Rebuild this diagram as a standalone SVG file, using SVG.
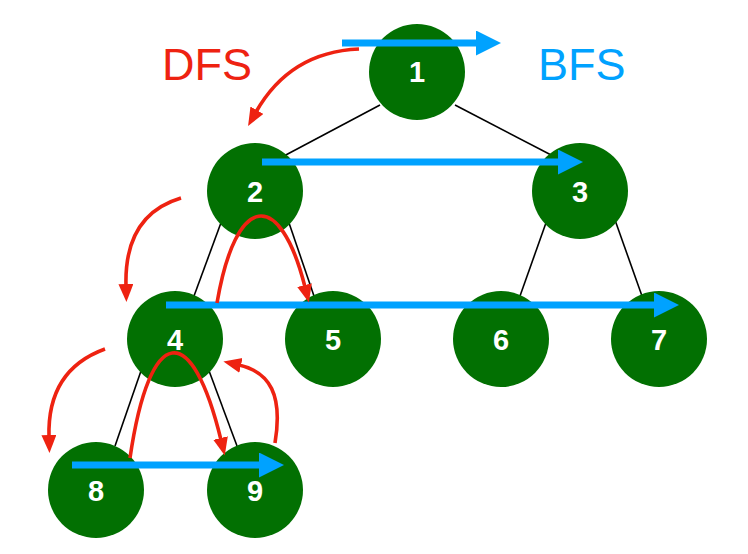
<svg xmlns="http://www.w3.org/2000/svg" width="748" height="554" viewBox="0 0 748 554">
<style>
.edge{stroke:#000;stroke-width:1.6;fill:none}
.node circle{fill:#027002}
.node text{fill:#fff;font-family:"Liberation Sans",Arial,Helvetica,sans-serif;font-weight:bold;font-size:29px;text-anchor:middle}
.bfs{stroke:#00A2FF;stroke-width:7;fill:none;marker-end:url(#bh)}
.dfs{stroke:#EE2211;stroke-width:3.6;fill:none;marker-end:url(#rh)}
.title{font-family:"Liberation Sans",Arial,Helvetica,sans-serif;font-size:45px}
</style>
<defs>
<marker id="bh" markerUnits="userSpaceOnUse" markerWidth="28" markerHeight="28" refX="2" refY="12.5" orient="auto" viewBox="0 0 28 28">
<path d="M0,0 L25,12.5 L0,25 z" fill="#00A2FF"/>
</marker>
<marker id="rh" markerUnits="userSpaceOnUse" markerWidth="20" markerHeight="16" refX="2" refY="7.5" orient="auto" viewBox="0 0 20 16">
<path d="M0,0 L18,7.5 L0,15 z" fill="#EE2211"/>
</marker>
</defs>
<rect width="748" height="554" fill="#fff"/>
<g id="edges">
<line class="edge" x1="380" y1="105" x2="282" y2="157"/>
<line class="edge" x1="455" y1="105" x2="555" y2="157"/>
<line class="edge" x1="222" y1="220" x2="194" y2="296"/>
<line class="edge" x1="288" y1="220" x2="314" y2="296"/>
<line class="edge" x1="547" y1="220" x2="520" y2="296"/>
<line class="edge" x1="615" y1="220" x2="642" y2="296"/>
<line class="edge" x1="142" y1="368" x2="115" y2="446"/>
<line class="edge" x1="208" y1="368" x2="237" y2="446"/>
</g>
<g id="n1" class="node"><circle cx="417" cy="72" r="48"/><text x="417" y="82">1</text></g>
<g id="n2" class="node"><circle cx="255" cy="191" r="48"/><text x="255" y="202">2</text></g>
<g id="n3" class="node"><circle cx="580" cy="191" r="48"/><text x="580" y="202">3</text></g>
<g id="n4" class="node"><circle cx="175" cy="339" r="48"/><text x="175" y="350">4</text></g>
<g id="n5" class="node"><circle cx="333" cy="339" r="48"/><text x="333" y="350">5</text></g>
<g id="n6" class="node"><circle cx="501" cy="339" r="48"/><text x="501" y="350">6</text></g>
<g id="n7" class="node"><circle cx="659" cy="339" r="48"/><text x="659" y="350">7</text></g>
<g id="n8" class="node"><circle cx="96" cy="490" r="48"/><text x="96" y="501">8</text></g>
<g id="n9" class="node"><circle cx="255" cy="490" r="48"/><text x="255" y="501">9</text></g>
<g id="connectors">
<line class="bfs" x1="342" y1="43" x2="478" y2="43"/>
<line class="bfs" x1="262" y1="162" x2="560" y2="162"/>
<line class="bfs" x1="166" y1="305" x2="656" y2="305"/>
<line class="bfs" x1="72" y1="465" x2="261" y2="465"/>
<path class="dfs" d="M359,49 Q290,52 256,112"/>
<path class="dfs" d="M181,198 Q124,215 126,286"/>
<path class="dfs" d="M217,303 C236,192 280,188 305,287"/>
<path class="dfs" d="M130,458 C150,322 192,320 221,440"/>
<path class="dfs" d="M275,443 C283,395 270,372 239,365"/>
<path class="dfs" d="M105,349 Q47,370 49,437"/>
</g>
<text class="title" x="162" y="80" fill="#EE2211">DFS</text>
<text class="title" x="538" y="80" fill="#00A2FF">BFS</text>
</svg>
